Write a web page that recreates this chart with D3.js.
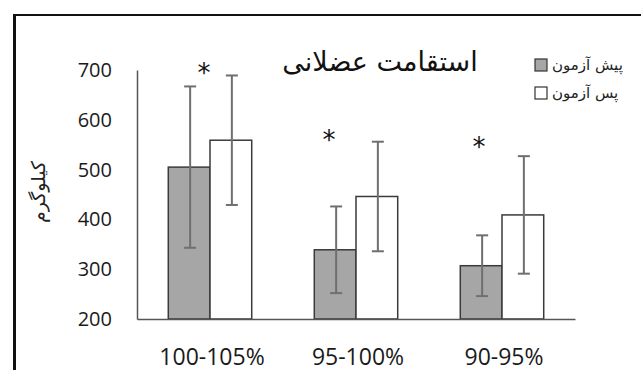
<!DOCTYPE html>
<html><head><meta charset="utf-8">
<script src="https://cdn.jsdelivr.net/npm/d3@7"></script>
<style>body{margin:0;background:#fff}svg{display:block}</style>
</head><body>
<svg id="c" width="641" height="370"></svg>
<script>
const categories = ["100-105%", "95-100%", "90-95%"];
const seriesNames = ["پیش آزمون", "پس آزمون"];
const preMeans = [505, 339, 307];
const preErr = [162, 87, 61];
const postMeans = [559, 446, 409];
const postErr = [130, 110, 118];
const starValues = [708, 574, 559];
const yTicks = [200, 300, 400, 500, 600, 700];
const title = "استقامت عضلانی";
const yTitle = "کیلوگرم";

const svg = d3.select("#c");
const plotLeft = 137, plotRight = 575, plotTop = 70, plotBottom = 319;

// frame
svg.append("line").attr("x1", 13).attr("x2", 641).attr("y1", 15).attr("y2", 15)
  .attr("stroke", "#111").attr("stroke-width", 2);
svg.append("line").attr("x1", 14.5).attr("x2", 14.5).attr("y1", 14).attr("y2", 370)
  .attr("stroke", "#111").attr("stroke-width", 3);

const y = d3.scaleLinear().domain([200, 700]).range([plotBottom, plotTop]);
const x0 = d3.scaleBand().domain(categories).range([plotLeft, plotRight])
  .paddingInner(0.4286).paddingOuter(0.2143);
const x1 = d3.scaleBand().domain([0, 1]).range([0, x0.bandwidth()]);

const series = [
  {name: seriesNames[0], means: preMeans, err: preErr, fill: "#a6a6a6"},
  {name: seriesNames[1], means: postMeans, err: postErr, fill: "#ffffff"}
];

// bars
series.forEach((s, si) => {
  const g = svg.append("g");
  g.selectAll("rect").data(categories).join("rect")
    .attr("x", d => x0(d) + x1(si))
    .attr("width", x1.bandwidth())
    .attr("y", (d, i) => y(s.means[i]))
    .attr("height", (d, i) => y(200) - y(s.means[i]))
    .attr("fill", s.fill).attr("stroke", "#3a3a3a").attr("stroke-width", 1.5);
});

// error bars
series.forEach((s, si) => {
  const g = svg.append("g").attr("stroke", "#6f6f6f").attr("stroke-width", 2);
  categories.forEach((c, i) => {
    const cx = x0(c) + x1(si) + x1.bandwidth() / 2 + 1;
    const hi = y(s.means[i] + s.err[i]), lo = y(s.means[i] - s.err[i]);
    g.append("line").attr("x1", cx).attr("x2", cx).attr("y1", hi).attr("y2", lo);
    g.append("line").attr("x1", cx - 6).attr("x2", cx + 6).attr("y1", hi).attr("y2", hi);
    g.append("line").attr("x1", cx - 6).attr("x2", cx + 6).attr("y1", lo).attr("y2", lo);
  });
});

// axes
const yAxis = d3.axisLeft(y).tickValues(yTicks).tickSize(0).tickPadding(25);
const ya = svg.append("g").attr("transform", `translate(${plotLeft},0)`).call(yAxis);
ya.select(".domain").attr("stroke", "#555").attr("stroke-width", 1.5);
ya.selectAll("text").attr("font-family", "Open Sans").attr("font-size", 20).attr("fill", "#1a1a1a");

const xAxis = d3.axisBottom(x0).tickSize(0).tickPadding(30);
const xa = svg.append("g").attr("transform", `translate(0,${plotBottom})`).call(xAxis);
xa.select(".domain").attr("stroke", "#555").attr("stroke-width", 1.5);
xa.selectAll("text").attr("font-family", "Open Sans").attr("font-size", 23).attr("fill", "#1a1a1a")
  .attr("dx", 2);

// significance stars
const starDx = [-6, -27, -23];
svg.append("g").selectAll("text").data(categories).join("text")
  .attr("x", (d, i) => x0(d) + x0.bandwidth() / 2 + starDx[i])
  .attr("y", (d, i) => y(starValues[i]) + 16)
  .attr("text-anchor", "middle")
  .attr("font-family", "DejaVu Sans").attr("font-size", 26).attr("fill", "#111")
  .text("*");

// title
svg.append("text").attr("x", 380).attr("y", 71).attr("text-anchor", "middle")
  .attr("font-family", "DejaVu Sans").attr("font-size", 27).attr("fill", "#111")
  .attr("direction", "rtl").text(title);

// y title
svg.append("text").attr("transform", "translate(45,192) rotate(-90)")
  .attr("text-anchor", "middle").attr("font-family", "DejaVu Sans").attr("font-size", 19)
  .attr("fill", "#222").text(yTitle);

// legend
const lg = svg.append("g");
series.forEach((s, si) => {
  const yy = 65 + si * 28;
  lg.append("rect").attr("x", 535).attr("y", yy - 6).attr("width", 12).attr("height", 12)
    .attr("fill", s.fill).attr("stroke", "#333").attr("stroke-width", 1.2);
  lg.append("text").attr("x", 552).attr("y", yy + 5)
    .attr("font-family", "DejaVu Sans").attr("font-size", 15).attr("fill", "#222")
    .text(s.name);
});
</script>
</body></html>
